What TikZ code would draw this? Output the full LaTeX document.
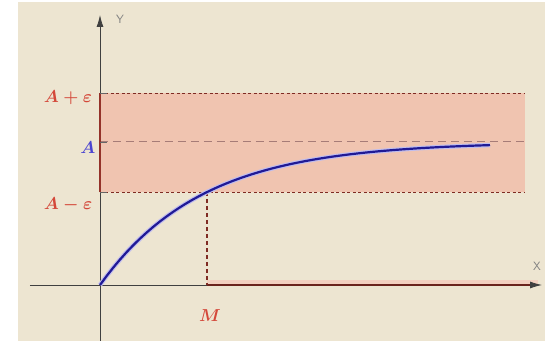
\documentclass[tikz,border=0pt]{standalone}
\usepackage{amsmath,amssymb}
\usetikzlibrary{calc,positioning,arrows.meta}
\definecolor{beige}{HTML}{EDE5D1}
\definecolor{band}{HTML}{F0C4B0}
\definecolor{lim}{HTML}{D4483A}
\definecolor{curve}{HTML}{2B23C8}
\begin{document}
\begin{tikzpicture}[x=1pt,y=1pt,
  ax/.style={draw=black!75,line width=0.8pt,-{Latex[length=12pt,width=7pt]}},
  lab/.style={text=lim,font=\LARGE\boldmath,inner sep=1pt},
  axl/.style={font=\sffamily\large,text=black!50},
  bd/.style={draw=lim!60!black,dashed,dash pattern=on 3pt off 2.5pt,line width=0.6pt}]
  \fill[white] (-100,-56) rectangle (450,285);
  \fill[beige] (-82,-56) rectangle (445,283);
  % band around the limit
  \fill[band] (0,93) rectangle (425,192);
  \coordinate (o) at (0,0);
  \coordinate (lo) at (0,93);
  \coordinate (hi) at (0,192);
  \coordinate (a) at (0,143);
  \coordinate (m) at (107,93);
  \coordinate (mx) at (107,0);
  \draw[bd] (lo) -- ++(425,0);
  \draw[bd] (hi) -- ++(425,0);
  \draw[draw=black!50!lim!60,dashed,dash pattern=on 8pt off 5pt,line width=1pt] (a) -- ++(425,0);
  % axes
  \draw[ax] (0,-56) -- (0,270);
  \node[axl] (y) at (20,266) {Y};
  \fill[band!80] (mx) rectangle (438,5);
  \draw[ax] (-70,0) -- (442,0);
  \node[axl] (x) at (437,19) {X};
  \draw[lim!50!black,line width=2pt] (mx) -- (430,0);
  \draw[lim!70!black,line width=2pt] (lo) -- (hi);
  \foreach \p in {lo,a,hi} \draw[black!60,line width=0.8pt] (\p) -- ++(7,0);
  \draw[lim!60!black,dashed,dash pattern=on 4pt off 3pt,line width=1.2pt] (m) -- (mx);
  % the curve
  \draw[curve!30,line width=4.5pt] plot[domain=0:390,samples=60] (\x,{143*(1-exp(-\x/102))});
  \draw[curve!75!black,line width=2.2pt] plot[domain=0:390,samples=60] (\x,{143*(1-exp(-\x/102))});
  \node[lab] (ahi) at (-32,187) {$A+\varepsilon$};
  \node[lab,text=curve!85] (al) at (-12,137) {$A$};
  \node[lab] (alo) at (-32,80) {$A-\varepsilon$};
  \node[lab] (ml) at (110,-31) {$M$};
\end{tikzpicture}
\end{document}
